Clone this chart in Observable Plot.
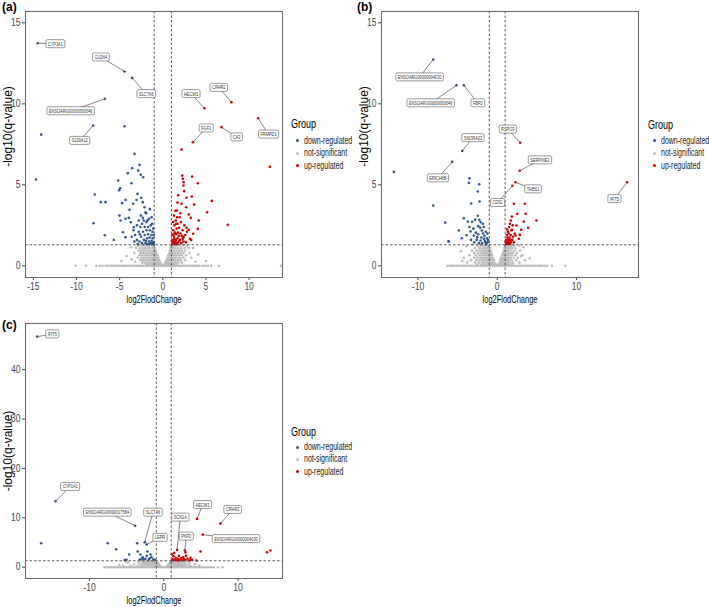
<!DOCTYPE html>
<html><head><meta charset="utf-8">
<script src="https://cdn.jsdelivr.net/npm/d3@7"></script>
<script src="https://cdn.jsdelivr.net/npm/@observablehq/plot@0.6"></script>
<style>
body{margin:0;background:#fff;}
#root{position:relative;width:709px;height:607px;overflow:hidden;font-family:"Liberation Sans",Arial,Helvetica,sans-serif;background:#fff;}
#root svg{position:absolute;overflow:visible;}
.tag{position:absolute;font-weight:bold;font-size:12px;line-height:14px;color:#000;}
.lg{position:absolute;white-space:nowrap;transform-origin:left center;}
.dotk{position:absolute;width:3px;height:3px;border-radius:50%;}
</style></head><body><div id="root"></div>
<script>
const FONT = '"Liberation Sans", Arial, Helvetica, sans-serif';
const groups = ["down-regulated", "not-significant", "up-regulated"];
const groupColors = ["#2f5688", "#BBBBBB", "#CC0000"];
const fcCut = [-1, 1];
const qCut = 1.3;
const xTitle = "log2FlodChange";
const yTitle = "-log10(q-value)";
const panelTags = ["(a)", "(b)", "(c)"];
const legendTitle = "Group";

// ---------- panel (a) ----------
const aXTicks = [-15, -10, -5, 0, 5, 10];
const aYTicks = [0, 5, 10, 15];
// [gene, group, x, y, labelX, labelY]
const aLabels = [
  ["CYP1A1", "down-regulated", -14.5, 13.74, -12.45, 13.7],
  ["CLDN4", "down-regulated", -4.44, 12.0, -7.18, 12.88],
  ["SLC7A6", "down-regulated", -3.55, 11.6, -1.91, 10.62],
  ["ENSOARG00000000046", "down-regulated", -6.72, 10.31, -10.67, 9.56],
  ["S100A12", "down-regulated", -8.07, 8.66, -9.63, 7.73],
  ["HECW1", "up-regulated", 4.83, 9.73, 3.27, 10.62],
  ["CRHR2", "up-regulated", 7.96, 10.1, 6.49, 11.0],
  ["FGF1", "up-regulated", 3.48, 7.63, 5.03, 8.5],
  ["CA3", "up-regulated", 6.8, 8.56, 8.56, 7.95],
  ["FRMPD1", "up-regulated", 11.05, 9.11, 12.25, 8.12]
];
const aDown = [
  [-4.44,8.62],[-14.1,8.1],[-14.7,5.33],[-3.28,6.91],[-2.70,6.23],[-3.55,6.03],[-4.06,5.72],[-2.85,5.88],
  [-2.55,5.62],[-2.27,5.47],[-5.17,5.27],[-4.94,4.79],[-5.05,4.67],[-3.63,5.10],[-7.88,4.40],[-7.18,3.93],
  [-6.64,3.93],[-8.03,2.63],[-6.72,1.89],[-5.68,1.60],[-2.93,4.44],[-4.71,3.87],[-4.32,4.07],[-3.43,3.83],
  [-3.05,4.07],[-2.50,4.20],[-2.32,3.93],[-2.12,3.62],[-3.86,3.46],[-5.02,3.10],[-4.9,2.8],[-4.32,2.90],
  [-3.94,2.96],[-3.71,2.69],[-4.63,2.07],[-4.32,1.77],[-3.36,2.38],[-2.78,2.80],[-2.32,2.96],[-1.92,3.25],
  [-1.77,2.80],
  [-3.4,2.2],[-3.2,1.9],[-3.0,2.5],[-3.0,1.6],[-2.8,2.1],[-2.7,1.5],[-2.6,2.4],[-2.5,1.8],[-2.4,2.6],
  [-2.4,1.4],[-2.3,2.1],[-2.2,1.6],[-2.1,2.4],[-2.1,1.9],[-2.0,1.4],[-1.9,2.7],[-1.9,2.2],[-1.8,1.7],
  [-1.8,1.35],[-1.7,2.4],[-1.7,1.95],[-1.6,1.5],[-1.6,2.9],[-1.5,2.2],[-1.5,1.75],[-1.4,1.4],[-1.4,2.5],
  [-1.3,1.9],[-1.3,1.55],[-1.2,2.1],[-1.2,1.35],[-1.15,1.7],[-1.1,2.3],[-1.1,1.45],[-2.9,1.35],[-3.3,1.5],
  [-2.55,3.1],[-2.0,3.3],[-1.5,3.5],[-1.3,3.0],[-3.6,1.8],[-2.2,2.8],[-1.95,1.55],[-2.65,1.95],[-1.55,1.35],
  [-1.25,2.6],[-1.05,1.9],[-1.05,1.35]
];
const aUp = [
  [2.17,7.18],[12.4,6.11],[2.25,5.57],[2.32,5.37],[3.4,5.51],[2.4,5.16],[4.06,5.10],[2.4,4.96],[1.78,4.36],
  [2.48,4.61],[3.36,4.28],[2.75,4.2],[5.68,4.01],[1.70,3.91],[2.17,3.83],[3.64,3.78],[2.71,3.62],[5.14,3.31],
  [1.62,3.41],[2.05,3.25],[3.01,3.17],[4.17,2.8],[3.25,2.96],[7.53,2.53],[2.75,2.35],[3.01,2.22],[4.06,2.28],
  [3.52,1.98],[3.13,1.67],[3.29,1.6],[2.4,1.77],
  [1.1,1.35],[1.15,1.6],[1.1,1.9],[1.2,2.2],[1.25,1.45],[1.3,1.8],[1.35,2.5],[1.4,1.35],[1.4,2.05],[1.5,1.6],
  [1.5,2.8],[1.55,1.95],[1.6,2.3],[1.6,1.4],[1.7,1.7],[1.7,2.6],[1.75,2.05],[1.8,1.45],[1.85,1.85],[1.9,2.35],
  [1.95,3.0],[2.0,1.6],[2.05,2.0],[2.1,2.7],[2.15,1.4],[2.2,1.85],[2.3,2.2],[2.4,1.5],[2.5,2.5],[2.6,1.9],
  [2.7,1.45],[2.8,2.1],[1.2,2.7],[1.3,3.1],[1.45,3.4],[1.65,3.0],[1.05,1.55],[1.25,1.95],[1.45,1.5],[1.65,1.35],
  [1.9,1.55],[2.3,1.65],[1.35,1.65],[1.55,2.6]
];
const aGrayBand = [
  -10.1,-8.9,-7.7,-7.3,-7.0,-6.6,-6.3,
  -6.0,-5.75,-5.5,-5.25,-5.0,-4.75,-4.5,-4.25,-4.0,-3.75,-3.5,-3.25,-3.0,-2.75,-2.5,-2.25,-2.0,-1.75,-1.5,
  -1.25,-1.0,-0.75,-0.5,-0.25,0,0.25,0.5,0.75,1.0,1.25,1.5,1.75,2.0,2.25,2.5,2.75,3.0,3.25,3.5,3.75,4.0,4.25,
  4.6,4.9,5.2,5.6,6.5,13.7
];
// [y, x...]
const aGrayRows = [
  [1.25,-2.9,-2.5,-2.2,-1.9,-1.6,-1.3,-1.05,1.05,1.3,1.6,1.9,2.3,2.8],
  [1.1,-3.1,-2.7,-2.35,-2.05,-1.75,-1.45,-1.15,-0.9,0.9,1.15,1.45,1.75,2.1,2.5,3.0],
  [0.95,-2.8,-2.5,-2.2,-1.9,-1.6,-1.3,-1.05,-0.82,0.82,1.05,1.3,1.6,1.9,2.2,2.6],
  [0.8,-3.3,-2.6,-2.3,-2.0,-1.7,-1.4,-1.15,-0.95,-0.75,0.75,0.95,1.2,1.45,1.75,2.05,2.4,3.1],
  [0.65,-2.7,-2.4,-2.1,-1.8,-1.5,-1.25,-1.0,-0.8,-0.62,0.62,0.8,1.05,1.3,1.6,1.9,2.2,2.7],
  [0.5,-2.9,-2.5,-2.2,-1.9,-1.6,-1.35,-1.1,-0.9,-0.7,-0.52,0.52,0.7,0.9,1.15,1.4,1.7,2.0,2.4],
  [0.35,-2.6,-2.3,-2.0,-1.7,-1.45,-1.2,-0.95,-0.75,-0.58,-0.42,0.42,0.58,0.75,0.95,1.2,1.45,1.75,2.1,2.6],
  [0.2,-2.4,-2.1,-1.8,-1.5,-1.25,-1.0,-0.8,-0.6,-0.45,-0.3,0.3,0.45,0.6,0.8,1.0,1.25,1.5,1.8,2.2],
  [0.1,-1.9,-1.6,-1.3,-1.05,-0.85,-0.65,-0.45,-0.3,-0.18,0.18,0.3,0.45,0.65,0.85,1.05,1.3,1.6]
];
const aGrayExtra = [[-3.7,1.15],[-4.2,0.6],[-3.6,0.4],[-3.2,0.25],[-4.8,0.3],[3.5,1.1],[4.1,0.7],[3.3,0.5],[5.0,0.3],[3.8,0.25]];

// ---------- panel (b) ----------
const bXTicks = [-10, 0, 10];
const bYTicks = [0, 5, 10, 15];
const bLabels = [
  ["ENSOARG00000004030", "down-regulated", -8.08, 12.74, -9.8, 11.65],
  ["ENSOARG00000000046", "down-regulated", -5.14, 11.14, -8.4, 10.05],
  ["FBP2", "down-regulated", -4.21, 11.14, -2.45, 10.05],
  ["SNORA23", "down-regulated", -4.42, 7.09, -3.06, 7.9],
  ["ERICH6B", "down-regulated", -5.68, 6.42, -7.5, 5.42],
  ["RSPO3", "up-regulated", 2.9, 7.6, 1.33, 8.43],
  ["SERPINE1", "up-regulated", 2.84, 5.87, 5.4, 6.53],
  ["THBS1", "up-regulated", 2.31, 5.16, 4.52, 4.74],
  ["CD52", "up-regulated", 1.91, 4.94, 0.04, 3.9],
  ["IFIT5", "up-regulated", 16.4, 5.16, 14.8, 4.14]
];
const bDown = [
  [-13.05,5.8],[-8.08,3.72],[-6.55,2.67],[-6.15,1.52],[-3.5,5.41],[-3.58,5.12],[-2.27,5.04],[-2.45,4.59],
  [-3.28,3.85],[-2.23,3.97],[-4.22,2.94],[-3.71,2.73],[-2.78,2.84],[-2.27,2.84],[-2.45,3.09],[-3.16,2.72],
  [-1.94,2.18],[-4.85,2.18],[-4.47,1.7],[-3.88,1.89],[-3.37,2.12],[-2.95,1.87],[-2.53,1.77],[-6.11,1.5],
  [-2.11,1.56],[-1.69,1.67],[-1.48,1.46],
  [-2.9,1.45],[-2.7,2.05],[-2.6,1.6],[-2.4,1.95],[-2.3,1.4],[-2.15,2.35],[-2.0,1.75],[-1.9,1.4],[-1.8,2.0],
  [-1.7,2.4],[-1.6,1.85],[-1.55,1.55],[-1.45,2.1],[-1.4,1.35],[-1.3,1.7],[-1.25,2.0],[-1.2,1.45],[-1.15,1.6],
  [-3.3,1.6],[-3.0,2.3],[-2.1,2.7],[-1.8,2.6],[-2.4,2.45],[-3.5,2.4]
];
const bUp = [
  [2.1,3.83],[3.49,3.83],[2.53,3.21],[3.58,3.21],[1.85,3.04],[1.72,2.8],[4.96,2.8],[3.36,2.73],[2.44,2.49],
  [3.91,2.35],[1.89,2.22],[3.03,2.22],[2.86,1.91],[2.31,1.87],[2.73,1.67],
  [1.1,1.35],[1.15,1.6],[1.2,1.9],[1.25,1.45],[1.3,1.75],[1.35,1.35],[1.4,1.6],[1.45,2.0],[1.5,1.45],
  [1.55,1.75],[1.6,1.35],[1.65,1.6],[1.7,1.9],[1.75,1.45],[1.8,2.2],[1.9,1.6],[2.0,1.8],[2.1,1.45],
  [1.25,2.25],[1.5,2.4],[1.35,2.1],[2.2,2.0],[1.05,1.5],[1.6,2.6],[1.95,2.5]
];
const bGrayBand = [
  -6.3,-6.0,-5.7,-5.4,-5.1,-4.8,-4.5,-4.2,-3.9,-3.6,-3.3,-3.0,-2.7,-2.4,-2.1,-1.8,-1.5,-1.2,-0.9,-0.6,-0.3,
  0,0.3,0.6,0.9,1.2,1.5,1.8,2.1,2.4,2.7,3.0,3.3,3.6,3.9,4.2,4.5,4.8,5.1,5.4,5.7,6.0,6.3,6.9,8.6
];
const bGrayRows = [
  [1.25,-2.5,-2.1,-1.8,-1.5,-1.25,-1.05,1.0,1.2,1.45,1.75,2.1],
  [1.1,-2.8,-2.3,-1.95,-1.65,-1.4,-1.15,-0.92,0.9,1.1,1.35,1.6,1.9,2.3],
  [0.95,-3.2,-2.6,-2.2,-1.85,-1.55,-1.3,-1.05,-0.85,0.82,1.0,1.25,1.5,1.8,2.2,2.9],
  [0.8,-2.9,-2.4,-2.0,-1.7,-1.45,-1.2,-0.95,-0.75,0.72,0.92,1.15,1.4,1.7,2.0,2.5],
  [0.65,-3.5,-2.7,-2.25,-1.9,-1.6,-1.35,-1.1,-0.85,-0.65,0.62,0.82,1.05,1.3,1.55,1.85,2.3,3.2],
  [0.5,-4.2,-2.9,-2.5,-2.1,-1.8,-1.5,-1.25,-1.0,-0.78,-0.55,0.5,0.7,0.92,1.15,1.4,1.7,2.1,2.6],
  [0.35,-3.3,-2.6,-2.2,-1.85,-1.55,-1.3,-1.05,-0.8,-0.6,-0.42,0.4,0.58,0.78,1.0,1.25,1.5,1.85,2.4,3.5],
  [0.2,-3.8,-2.8,-2.3,-1.9,-1.6,-1.3,-1.05,-0.8,-0.55,-0.35,0.28,0.45,0.65,0.85,1.1,1.35,1.65,2.0,2.8],
  [0.08,-2.5,-2.0,-1.6,-1.25,-0.95,-0.7,-0.45,-0.25,-0.1,0.15,0.3,0.5,0.7,0.95,1.2,1.5,1.9]
];
const bGrayExtra = [[-4.6,0.9],[-3.9,1.2],[-4.4,0.3],[-3.1,1.3],[3.3,1.15],[2.8,1.25],[4.1,0.45],[3.0,0.6]];

// ---------- panel (c) ----------
const cXTicks = [-10, 0, 10];
const cYTicks = [0, 10, 20, 30, 40];
const cLabels = [
  ["IFIT5", "down-regulated", -17.04, 46.7, -15.0, 47.2],
  ["CYP1A1", "down-regulated", -14.57, 13.35, -12.6, 16.3],
  ["ENSOARG00000017584", "down-regulated", -3.85, 8.4, -7.6, 11.1],
  ["SLC7A6", "down-regulated", -2.56, 5.06, -1.45, 11.1],
  ["LEPR", "down-regulated", -2.3, 4.6, -0.51, 6.0],
  ["SCN1A", "up-regulated", 1.8, 3.5, 2.22, 10.1],
  ["PKP2", "up-regulated", 2.83, 3.38, 3.03, 6.25],
  ["HECW1", "up-regulated", 4.48, 9.78, 5.23, 12.65],
  ["CRHR2", "up-regulated", 7.62, 8.83, 9.27, 11.65],
  ["ENSOARG00000004030", "up-regulated", 5.25, 6.6, 9.72, 5.75]
];
const cDown = [
  [-16.5,4.86],[-7.54,4.86],[-6.41,3.64],[-3.58,4.86],[-4.66,2.57],[-3.5,3.18],[-3.14,2.57],[-2.19,3.18],
  [-1.79,2.57],[-2.83,2.02],[-5.02,1.5],[-5.25,1.45],[-2.46,1.7],[-2.02,1.5],[-1.66,2.02],[-1.43,1.56],
  [-3.0,1.7],[-3.25,1.5],[-2.7,1.6],[-1.9,1.8],[-1.2,1.5],[-2.3,2.3]
];
const cUp = [
  [4.94,3.18],[13.9,3.04],[14.36,3.38],[2.92,3.04],[4.4,1.36],[1.2,1.6],[1.3,2.2],[1.45,1.5],[1.6,1.9],
  [1.75,1.4],[1.9,1.7],[2.05,2.3],[2.2,1.5],[2.35,1.8],[2.5,1.4],[2.7,1.6],[2.9,1.45],[3.2,1.7],[3.5,1.4],
  [3.8,1.5],[1.1,2.6],[1.4,2.9],[2.0,1.35],[2.6,2.0],[3.0,2.3],[1.15,1.4],[3.6,1.9]
];
const cGrayBand = [
  -8.0,-7.7,-7.4,-7.1,-6.8,-6.5,-6.2,-5.9,-5.6,-5.3,-5.0,-4.7,-4.4,-4.1,-3.8,-3.5,-3.2,-2.9,-2.6,-2.3,-2.0,
  -1.7,-1.4,-1.1,-0.8,-0.5,-0.2,0.1,0.4,0.7,1.0,1.3,1.6,1.9,2.2,2.5,2.8,3.1,3.4,3.7,4.0,4.3,4.6,4.9,5.2,
  5.5,5.8,6.1,6.4,6.7,7.3,7.9
];
const cGrayRows = [
  [1.2,-3.0,-2.6,-2.3,-2.0,-1.7,-1.4,-1.1,1.1,1.4,1.7,2.0,2.3,2.7,3.2],
  [0.9,-3.4,-2.8,-2.5,-2.2,-1.9,-1.6,-1.3,-1.0,-0.8,0.8,1.0,1.3,1.6,1.9,2.2,2.5,2.9,3.5],
  [0.6,-4.0,-3.1,-2.7,-2.4,-2.1,-1.8,-1.5,-1.2,-0.9,-0.65,0.65,0.9,1.2,1.5,1.8,2.1,2.4,2.8,3.3,4.2],
  [0.3,-5.5,-4.5,-3.5,-3.0,-2.6,-2.3,-2.0,-1.7,-1.4,-1.1,-0.8,-0.5,0.45,0.75,1.05,1.35,1.65,1.95,2.25,2.6,3.0,3.6,4.8]
];
const cGrayExtra = [[-5.1,1.1],[-4.8,0.9],[-6.0,0.5]];

// ---------- build ----------
const root = document.getElementById("root");
const allGenes = new Set([...aLabels, ...bLabels, ...cLabels].map(d => d[0]));

function buildPanel(cfg) {
  const ns = groups[1];
  const pts = [
    ...cfg.band.map(x => ({x, y: 0, group: ns})),
    ...cfg.rows.flatMap(([y, ...xs]) => xs.map(x => ({x, y, group: ns}))),
    ...cfg.extra.map(([x, y]) => ({x, y, group: ns})),
    ...cfg.down.map(([x, y]) => ({x, y, group: groups[0]})),
    ...cfg.up.map(([x, y]) => ({x, y, group: groups[2]})),
    ...cfg.labels.map(([gene, group, x, y]) => ({x, y, group}))
  ];
  const labs = cfg.labels.map(([gene, group, x, y, lx, ly]) => ({gene, x, y, lx, ly}));
  const dash = {stroke: "#444", strokeWidth: 0.9, strokeDasharray: "2.5,2"};
  const svg = Plot.plot({
    width: cfg.width, height: cfg.height,
    marginLeft: cfg.m[0], marginTop: cfg.m[1], marginRight: cfg.m[2], marginBottom: cfg.m[3],
    style: {fontFamily: FONT, fontSize: "10px", color: "#444", background: "transparent"},
    x: {domain: cfg.xDomain, ticks: cfg.xTicks, tickSize: 3, tickPadding: 2, label: null, tickFormat: d => String(d)},
    y: {domain: cfg.yDomain, ticks: cfg.yTicks, tickSize: 3, tickPadding: 2, label: null, tickFormat: d => String(d)},
    color: {domain: groups, range: groupColors},
    marks: [
      Plot.dot(pts, {x: "x", y: "y", fill: "group", r: 1.3}),
      Plot.ruleX(fcCut, dash),
      Plot.ruleY([qCut], dash),
      Plot.link(labs, {x1: "x", y1: "y", x2: "lx", y2: "ly", stroke: "#333", strokeWidth: 0.6}),
      Plot.text(labs, {x: "lx", y: "ly", text: "gene", fontSize: 5.6, fill: "#333"}),
      Plot.text([yTitle], {text: d => d, frameAnchor: "left", textAnchor: "middle", lineAnchor: "middle", rotate: -90, dx: -17, dy: cfg.yTitleDy, fontSize: 12, fill: "#000"}),
      Plot.text([xTitle], {text: d => d, frameAnchor: "bottom", textAnchor: "middle", lineAnchor: "middle", dy: 22, fontSize: 11, fill: "#000"}),
      Plot.frame({stroke: "#666", strokeWidth: 1})
    ]
  });
  svg.style.left = cfg.left + "px";
  svg.style.top = cfg.top + "px";
  root.appendChild(svg);
  return svg;
}

function postProcess(svg) {
  svg.querySelectorAll("text").forEach(t => {
    const tr = t.getAttribute("transform") || "";
    if (/rotate/.test(tr)) return;
    const s = t.textContent;
    const k = allGenes.has(s) ? 0.7 : (s === xTitle ? 0.68 : 0.85);
    const L = t.getComputedTextLength();
    if (L > 0) {
      t.setAttribute("textLength", (L * k).toFixed(2));
      t.setAttribute("lengthAdjust", "spacingAndGlyphs");
    }
  });
  svg.querySelectorAll("text").forEach(t => {
    if (!allGenes.has(t.textContent)) return;
    const b = t.getBBox();
    const r = document.createElementNS("http://www.w3.org/2000/svg", "rect");
    r.setAttribute("x", b.x - 2);
    r.setAttribute("y", b.y - 1);
    r.setAttribute("width", b.width + 4);
    r.setAttribute("height", b.height + 2);
    r.setAttribute("rx", 1.5);
    r.setAttribute("fill", "#fff");
    r.setAttribute("stroke", "#555");
    r.setAttribute("stroke-width", 0.6);
    const tr = t.getAttribute("transform");
    if (tr) r.setAttribute("transform", tr);
    t.parentNode.insertBefore(r, t);
  });
}

function addTag(text, left, top) {
  const d = document.createElement("div");
  d.className = "tag";
  d.textContent = text;
  d.style.left = left + "px";
  d.style.top = top + "px";
  root.appendChild(d);
}

function addLegend(left, titleY, itemYs) {
  const t = document.createElement("div");
  t.className = "lg";
  t.textContent = legendTitle;
  t.style.cssText += `left:${left}px;top:${titleY - 7}px;font-size:12px;line-height:14px;color:#000;transform:scaleX(0.75);`;
  root.appendChild(t);
  groups.forEach((g, i) => {
    const dot = document.createElement("div");
    dot.className = "dotk";
    dot.style.left = (left + 6 - 1.5) + "px";
    dot.style.top = (itemYs[i] - 1.5) + "px";
    dot.style.background = groupColors[i];
    root.appendChild(dot);
    const s = document.createElement("div");
    s.className = "lg";
    s.textContent = g;
    s.style.cssText += `left:${left + 13}px;top:${itemYs[i] - 6}px;font-size:10px;line-height:12px;color:#222;transform:scaleX(0.7);`;
    root.appendChild(s);
  });
}

const svgs = [
  buildPanel({left: 0, top: 0, width: 287, height: 307, m: [25, 11, 5, 30],
    xDomain: [-15.91, 13.87], yDomain: [-0.72, 15.7], xTicks: aXTicks, yTicks: aYTicks, yTitleDy: -18,
    labels: aLabels, down: aDown, up: aUp, band: aGrayBand, rows: aGrayRows, extra: aGrayExtra}),
  buildPanel({left: 355, top: 0, width: 288, height: 307, m: [26, 11, 5, 30],
    xDomain: [-14.61, 17.84], yDomain: [-0.72, 15.7], xTicks: bXTicks, yTicks: bYTicks, yTitleDy: -18,
    labels: bLabels, down: bDown, up: bUp, band: bGrayBand, rows: bGrayRows, extra: bGrayExtra}),
  buildPanel({left: 0, top: 300, width: 287, height: 307, m: [25, 23, 5, 29],
    xDomain: [-18.61, 15.98], yDomain: [-2.29, 49.35], xTicks: cXTicks, yTicks: cYTicks, yTitleDy: 0,
    labels: cLabels, down: cDown, up: cUp, band: cGrayBand, rows: cGrayRows, extra: cGrayExtra})
];
svgs.forEach(postProcess);

addTag(panelTags[0], 2, 0);
addTag(panelTags[1], 357, 0);
addTag(panelTags[2], 2, 318);
addLegend(291, 124, [140.5, 153, 165.5]);
addLegend(648, 125, [140.5, 153, 165.5]);
addLegend(291, 432, [447, 459.3, 471.5]);
</script></body></html>
